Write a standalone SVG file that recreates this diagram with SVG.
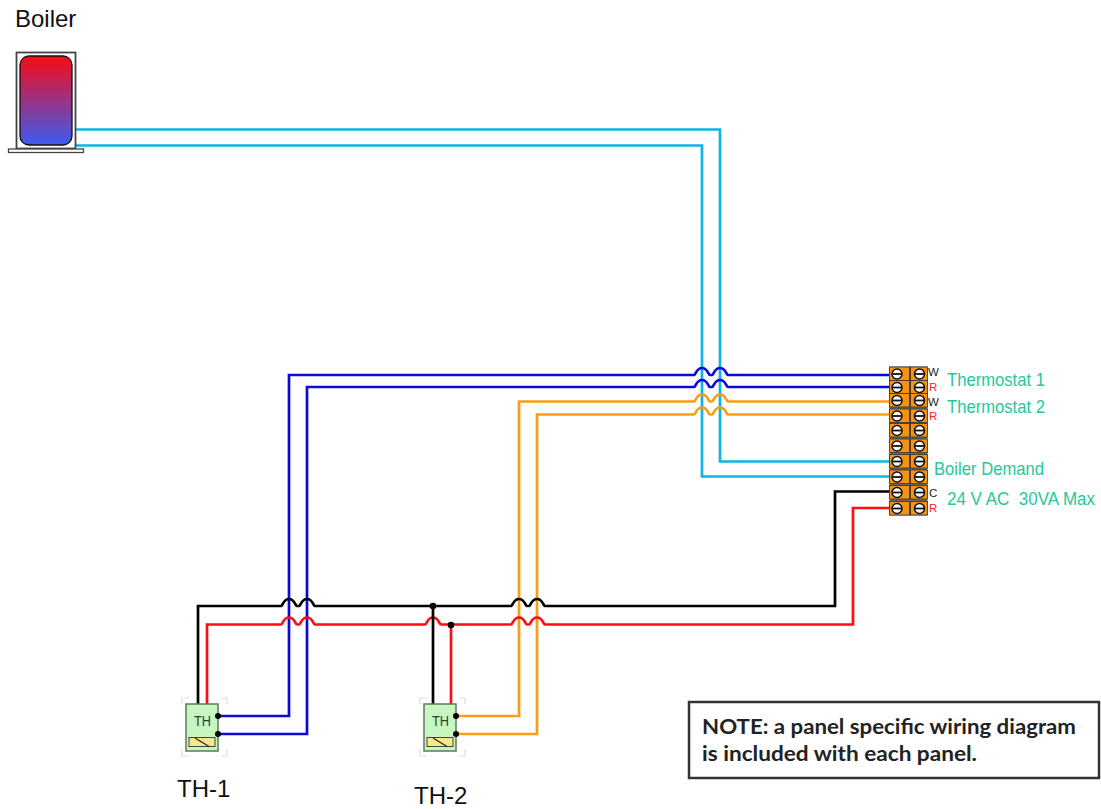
<svg xmlns="http://www.w3.org/2000/svg" width="1101" height="809" viewBox="0 0 1101 809">
<style>
text{font-family:"Liberation Sans",Arial,sans-serif}
.w{fill:none;stroke-width:2.700;stroke-linejoin:miter}
.lb{stroke:#0db4ea}.bl{stroke:#0a0adf}.or{stroke:#fb9d12}.bk{stroke:#000}.rd{stroke:#fb0d14}
.lab{font-size:24px;fill:#111}
.g{font-size:18.500px;fill:#1ec99b}
.sm{font-size:11.500px}
.cell{fill:#f59210;stroke:#333;stroke-width:.8}
.sc{fill:#fff;stroke:#111;stroke-width:1.500}
.ln{stroke:#111;stroke-width:1.800}
.dot{fill:#000}
.br{fill:none;stroke:#ddd;stroke-width:1.200}
</style>
<defs>
<linearGradient id="tank" x1="0" y1="0" x2="0" y2="1"><stop offset="0" stop-color="#f90a14"/><stop offset="1" stop-color="#3b5cf2"/></linearGradient>
<g id="screw"><circle r="5" class="sc"/><line x1="-4.500" x2="4.500" class="ln"/></g>
<g id="row"><rect x="0" y="0" width="20" height="13.500" class="cell"/><rect x="21" y="0" width="17" height="13.500" class="cell"/><use href="#screw" x="7.500" y="7"/><use href="#screw" x="30" y="7"/></g>
<g id="th"><path class="br" d="M-4,5V-1H3M35,-1H41V5M-4,50V57H3M35,57H41V50"/><rect x="0" y="5" width="32" height="47" fill="#c8f6c0" stroke="#5d7a5c" stroke-width="1.500"/><rect x="3" y="38.500" width="26" height="9" fill="#f5e88a" stroke="#444" stroke-width="1"/><line x1="9" y1="39" x2="23" y2="47.500" stroke="#222" stroke-width="1.200"/><text x="8" y="27" font-size="15" textLength="17" lengthAdjust="spacingAndGlyphs" fill="#243">TH</text></g>
</defs>
<g id="connectors">
<path class="w lb" d="M76,129.500H720V461.500H890"/>
<path class="w lb" d="M76,145.500H702V476.500H890"/>
<path class="w bl" d="M218,716H289V375H694c2,0 2,-7 8,-7s6,7 8,7h2c2,0 2,-7 8,-7s6,7 8,7H890"/>
<path class="w bl" d="M218,734H307V387H694c2,0 2,-7 8,-7s6,7 8,7h2c2,0 2,-7 8,-7s6,7 8,7H890"/>
<path class="w or" d="M456,716H519V401.500H694c2,0 2,-7 8,-7s6,7 8,7h2c2,0 2,-7 8,-7s6,7 8,7H890"/>
<path class="w or" d="M456,734H537V414.500H694c2,0 2,-7 8,-7s6,7 8,7h2c2,0 2,-7 8,-7s6,7 8,7H890"/>
<path class="w bk" d="M198,704V606H281c2,0 2,-7 8,-7s6,7 8,7h2c2,0 2,-7 8,-7s6,7 8,7H511c2,0 2,-7 8,-7s6,7 8,7h2c2,0 2,-7 8,-7s6,7 8,7H835V491.500H890"/>
<path class="w rd" d="M207,704V624.500H281c2,0 2,-7 8,-7s6,7 8,7h2c2,0 2,-7 8,-7s6,7 8,7H425c2,0 2,-7 8,-7s6,7 8,7H511c2,0 2,-7 8,-7s6,7 8,7h2c2,0 2,-7 8,-7s6,7 8,7H853V508H890"/>
<path class="w bk" d="M433,606V704"/>
<path class="w rd" d="M451,624.500V704"/>
<circle class="dot" cx="433" cy="606" r="3.300"/>
<circle class="dot" cx="451" cy="625" r="3.300"/>
</g>
<g id="boiler">
<rect x="16.500" y="52.500" width="59" height="96" fill="#fff" stroke="#444" stroke-width="1.800"/>
<rect x="20" y="56" width="52" height="89" rx="9" fill="url(#tank)" stroke="#111" stroke-width="1.300"/>
<rect x="8.500" y="149" width="75" height="3.500" fill="#fff" stroke="#444" stroke-width="1.300"/>
<text x="15" y="27" class="lab">Boiler</text>
</g>
<g id="terminals">
<rect x="889.500" y="366.500" width="38" height="149" fill="#666"/>
<use href="#row" x="889.500" y="367"/>
<use href="#row" x="889.500" y="380.500"/>
<use href="#row" x="889.500" y="393.500"/>
<use href="#row" x="889.500" y="409"/>
<use href="#row" x="889.500" y="423.500"/>
<use href="#row" x="889.500" y="439"/>
<use href="#row" x="889.500" y="454.500"/>
<use href="#row" x="889.500" y="470"/>
<use href="#row" x="889.500" y="485.500"/>
<use href="#row" x="889.500" y="501.500"/>
<g class="sm">
<text x="928" y="376" fill="#222">W</text>
<text x="929" y="391" fill="#f22">R</text>
<text x="928" y="406" fill="#222">W</text>
<text x="929" y="420" fill="#f22">R</text>
<text x="929" y="497" fill="#222">C</text>
<text x="929" y="512" fill="#f22">R</text>
</g>
<text x="947" y="386" class="g" textLength="98" lengthAdjust="spacingAndGlyphs">Thermostat 1</text>
<text x="947" y="413" class="g" textLength="98" lengthAdjust="spacingAndGlyphs">Thermostat 2</text>
<text x="934" y="475" class="g" textLength="110" lengthAdjust="spacingAndGlyphs">Boiler Demand</text>
<text x="947" y="505" class="g" style="font-size:17.500px" xml:space="preserve" textLength="148" lengthAdjust="spacingAndGlyphs">24 V AC  30VA Max</text>
</g>
<g id="th1"><use href="#th" x="186" y="699"/><circle class="dot" cx="218" cy="716" r="3"/><circle class="dot" cx="218" cy="734" r="3"/><text x="177" y="797" class="lab">TH-1</text></g>
<g id="th2"><use href="#th" x="424" y="699"/><circle class="dot" cx="456" cy="716" r="3"/><circle class="dot" cx="456" cy="734" r="3"/><text x="414" y="804" class="lab">TH-2</text></g>
<g id="note">
<rect x="689" y="702" width="410" height="76" fill="#fff" stroke="#333" stroke-width="2.500"/>
<text font-size="21" font-weight="700" fill="#222" x="702" y="734" textLength="374" lengthAdjust="spacingAndGlyphs" style="font-family:Lato,'Open Sans',sans-serif">NOTE: a panel specific wiring diagram</text>
<text font-size="21" font-weight="700" fill="#222" x="702" y="761" textLength="275" lengthAdjust="spacingAndGlyphs" style="font-family:Lato,'Open Sans',sans-serif">is included with each panel.</text>
</g>
</svg>
